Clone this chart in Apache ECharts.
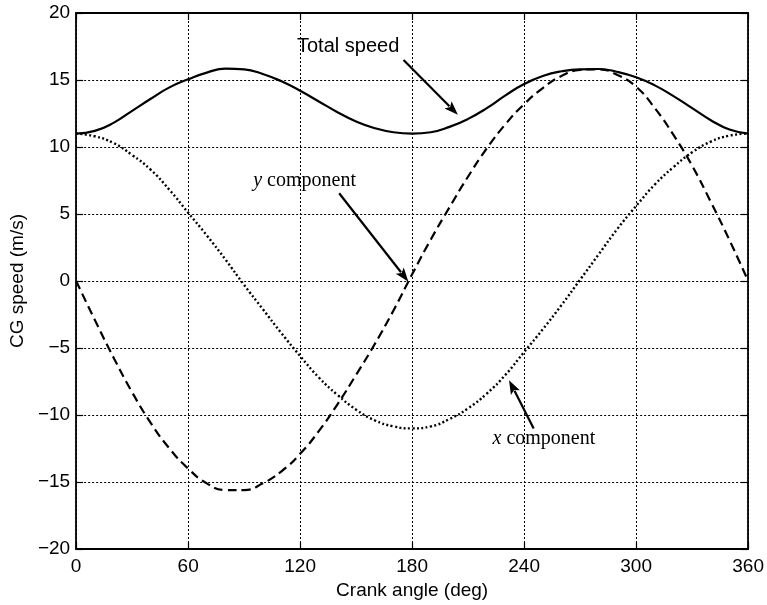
<!DOCTYPE html>
<html>
<head>
<meta charset="utf-8">
<script src="https://cdn.jsdelivr.net/npm/echarts@6/dist/echarts.min.js"></script>
<style>
  html, body { margin: 0; padding: 0; background: #ffffff; }
  #chart { width: 767px; height: 605px; }
</style>
</head>
<body>
<div id="chart"></div>
<script>
// Crank angle samples (deg)
const angles = [0, 10, 20, 30, 40, 50, 60, 70, 80, 90, 100, 110, 120, 130, 140, 150, 160, 170, 180,
                190, 200, 210, 220, 230, 240, 250, 260, 270, 280, 290, 300, 310, 320, 330, 340, 350, 360];

// CG speed (m/s)
const totalSpeed = [11.0, 11.2, 11.8, 12.7, 13.6, 14.45, 15.05, 15.55, 15.85, 15.8, 15.45, 14.9, 14.2, 13.4,
                    12.6, 11.9, 11.4, 11.1, 11.0, 11.1, 11.5, 12.1, 12.9, 13.85, 14.7, 15.3, 15.65, 15.8,
                    15.82, 15.6, 15.2, 14.6, 13.8, 12.9, 12.0, 11.3, 11.0];
const yComponent = [0.0, -2.9, -5.7, -8.3, -10.6, -12.5, -14.0, -15.1, -15.6, -15.6, -15.1, -14.2, -12.9,
                    -11.2, -9.2, -7.0, -4.7, -2.2, 0.5, 3.1, 5.5, 7.8, 9.9, 11.7, 13.2, 14.4, 15.3, 15.75,
                    15.8, 15.37, 14.5, 12.9, 10.9, 8.6, 5.9, 3.05, 0.0];
const xComponent = [11.0, 10.8, 10.3, 9.4, 8.3, 6.8, 5.1, 3.4, 1.6, -0.3, -2.1, -3.9, -5.6, -7.2, -8.5,
                    -9.6, -10.4, -10.85, -11.0, -10.85, -10.3, -9.5, -8.4, -7.0, -5.3, -3.6, -1.8, 0.1,
                    2.0, 3.9, 5.6, 7.2, 8.5, 9.6, 10.4, 10.85, 11.0];

// Axis ranges and ticks
const xMin = 0, xMax = 360, xStep = 60;
const yMin = -20, yMax = 20, yStep = 5;

// Annotation labels: text anchor, arrow tail and arrow tip (data units)
const labelTexts = ['Total speed', '{i|y} component', '{i|x} component'];
const labelAnchors = [[145.7, 17.5], [122.4, 7.5], [250.6, -11.75]];
const arrowTails = [[175.4, 16.5], [140.9, 6.55], [245.1, -11.0]];
const arrowTips = [[204.5, 12.4], [178.0, -0.05], [231.9, -7.4]];
const labelFonts = ['Liberation Sans', 'Liberation Serif', 'Liberation Serif'];

const pairs = vals => angles.map((a, i) => [a, vals[i]]);
const minusFmt = v => String(v).replace('-', '\u2212');

const chart = echarts.init(document.getElementById('chart'), null, { renderer: 'canvas' });

const tickFont = { fontFamily: 'Liberation Sans', fontSize: 19, color: '#000' };
const titleFont = { fontFamily: 'Liberation Sans', fontSize: 19, color: '#000' };
const frameLine = { show: true, onZero: false, lineStyle: { color: '#000', width: 1.8 } };
const innerTick = { show: true, inside: true, length: 7, lineStyle: { color: '#000', width: 1.2 } };
const gridDots = { show: true, lineStyle: { color: '#000', width: 1, type: [2, 2] } };

const option = {
  animation: false,
  backgroundColor: '#ffffff',
  grid: { left: 69, right: 18.5, top: 13, bottom: 56, containLabel: false },
  xAxis: [
    {
      type: 'value', min: xMin, max: xMax, interval: xStep, position: 'bottom',
      name: 'Crank angle (deg)', nameLocation: 'middle', nameGap: 31,
      nameTextStyle: titleFont,
      axisLine: frameLine, axisTick: innerTick, splitLine: gridDots,
      axisLabel: Object.assign({ margin: 8, formatter: minusFmt }, tickFont)
    },
    {
      type: 'value', min: xMin, max: xMax, interval: xStep, position: 'top',
      axisLine: frameLine, axisTick: innerTick, splitLine: { show: false }, axisLabel: { show: false }
    }
  ],
  yAxis: [
    {
      type: 'value', min: yMin, max: yMax, interval: yStep, position: 'left',
      name: 'CG speed (m/s)', nameLocation: 'middle', nameGap: 38,
      nameTextStyle: titleFont,
      axisLine: frameLine, axisTick: innerTick, splitLine: gridDots,
      axisLabel: Object.assign({ margin: 6, formatter: minusFmt }, tickFont)
    },
    {
      type: 'value', min: yMin, max: yMax, interval: yStep, position: 'right',
      axisLine: frameLine, axisTick: innerTick, splitLine: { show: false }, axisLabel: { show: false }
    }
  ],
  series: [
    {
      name: 'Total speed', type: 'line', data: pairs(totalSpeed), smooth: 0.5, showSymbol: false,
      lineStyle: { color: '#000', width: 2.2, type: 'solid' }, z: 5
    },
    {
      name: 'y component', type: 'line', data: pairs(yComponent), smooth: 0.5, showSymbol: false,
      lineStyle: { color: '#000', width: 2.2, type: [9, 5] }, z: 4
    },
    {
      name: 'x component', type: 'line', data: pairs(xComponent), smooth: 0.5, showSymbol: false,
      lineStyle: { color: '#000', width: 2.4, type: [2, 2.4] }, z: 3
    }
  ]
};

chart.setOption(option);

// Annotation arrows and captions, placed through the chart's own coordinate conversion
function arrowElements(tail, tip) {
  const p0 = chart.convertToPixel({ gridIndex: 0 }, tail);
  const p1 = chart.convertToPixel({ gridIndex: 0 }, tip);
  const dx = p1[0] - p0[0], dy = p1[1] - p0[1];
  const len = Math.hypot(dx, dy);
  const ux = dx / len, uy = dy / len;
  const headLen = 14, headHalf = 5;
  const bx = p1[0] - ux * headLen, by = p1[1] - uy * headLen;
  return [
    {
      type: 'line', silent: true, z: 10,
      shape: { x1: p0[0], y1: p0[1], x2: bx + ux * 2, y2: by + uy * 2 },
      style: { stroke: '#000', lineWidth: 2.2 }
    },
    {
      type: 'polygon', silent: true, z: 10,
      shape: { points: [[p1[0], p1[1]], [bx - uy * headHalf, by + ux * headHalf], [bx + ux * 3, by + uy * 3], [bx + uy * headHalf, by - ux * headHalf]] },
      style: { fill: '#000' }
    }
  ];
}

const graphics = [];
labelTexts.forEach((t, i) => {
  const c = chart.convertToPixel({ gridIndex: 0 }, labelAnchors[i]);
  graphics.push({
    type: 'text', silent: true, z: 10, x: c[0], y: c[1],
    style: {
      text: t, align: 'center', verticalAlign: 'middle',
      fontFamily: labelFonts[i], fontSize: 20, fill: '#000',
      rich: { i: { fontFamily: 'Liberation Serif', fontStyle: 'italic', fontSize: 20, fill: '#000' } }
    }
  });
  graphics.push(...arrowElements(arrowTails[i], arrowTips[i]));
});

chart.setOption({ graphic: graphics });
</script>
</body>
</html>
